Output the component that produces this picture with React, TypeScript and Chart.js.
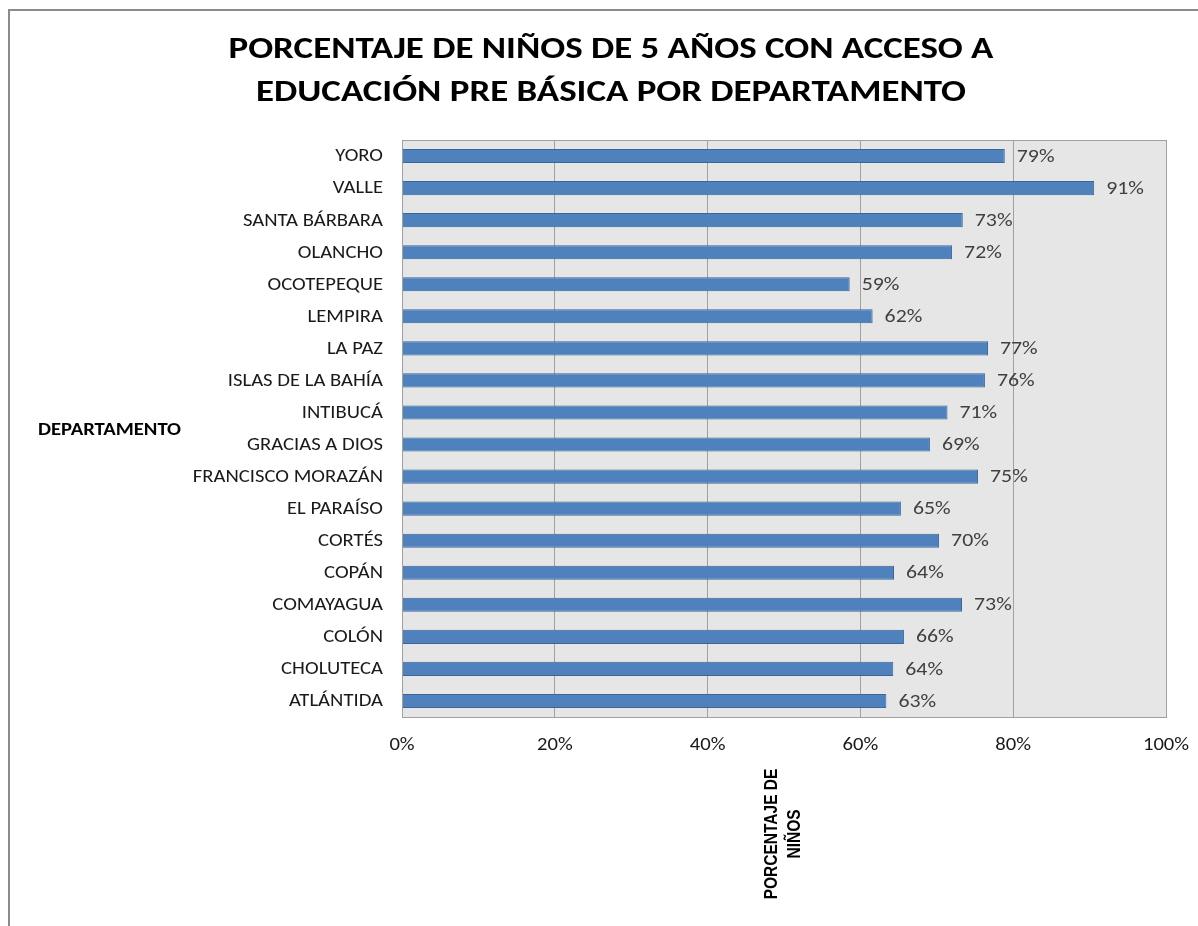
import React, { useEffect, useRef } from "react";
import { Chart, registerables } from "chart.js";

Chart.register(...registerables);

const categories = [
  "YORO",
  "VALLE",
  "SANTA BÁRBARA",
  "OLANCHO",
  "OCOTEPEQUE",
  "LEMPIRA",
  "LA PAZ",
  "ISLAS DE LA BAHÍA",
  "INTIBUCÁ",
  "GRACIAS A DIOS",
  "FRANCISCO MORAZÁN",
  "EL PARAÍSO",
  "CORTÉS",
  "COPÁN",
  "COMAYAGUA",
  "COLÓN",
  "CHOLUTECA",
  "ATLÁNTIDA",
];

const values = [
  0.789, 0.906, 0.734, 0.72, 0.586, 0.616, 0.767, 0.763, 0.714, 0.691, 0.754,
  0.653, 0.703, 0.644, 0.733, 0.657, 0.643, 0.634,
];

const xTicks = [0, 0.2, 0.4, 0.6, 0.8, 1];
const xTickLabels = ["0%", "20%", "40%", "60%", "80%", "100%"];

const titleLines = [
  "PORCENTAJE DE NIÑOS DE 5 AÑOS CON ACCESO A",
  "EDUCACIÓN PRE BÁSICA POR DEPARTAMENTO",
];
const yAxisTitle = "DEPARTAMENTO";
const xAxisTitleLines = ["PORCENTAJE DE", "NIÑOS"];

const BASE_FONT = "Carlito, Calibri, 'Open Sans', sans-serif";
const SX = 1.18;

function drawText(
  ctx: CanvasRenderingContext2D,
  text: string,
  x: number,
  y: number,
  align: CanvasTextAlign,
  font: string,
  color: string,
  sx: number = SX
) {
  ctx.save();
  ctx.translate(x, y);
  ctx.scale(sx, 1);
  ctx.font = font;
  ctx.fillStyle = color;
  ctx.textAlign = align;
  ctx.textBaseline = "middle";
  ctx.fillText(text, 0, 0);
  ctx.restore();
}

const decorPlugin = {
  id: "decor",
  beforeDraw(chart: any) {
    const { ctx, chartArea } = chart;
    ctx.save();
    ctx.fillStyle = "#ffffff";
    ctx.fillRect(0, 0, chart.width, chart.height);
    ctx.fillStyle = "#E6E6E6";
    ctx.fillRect(
      chartArea.left,
      chartArea.top,
      chartArea.right - chartArea.left,
      chartArea.bottom - chartArea.top
    );
    ctx.restore();
  },
  afterDraw(chart: any) {
    const { ctx, chartArea } = chart;
    const xs = chart.scales.x;
    const ys = chart.scales.y;
    ctx.save();
    // plot border
    ctx.strokeStyle = "#A0A0A0";
    ctx.lineWidth = 1;
    ctx.strokeRect(
      chartArea.left + 0.5,
      chartArea.top + 0.5,
      chartArea.right - chartArea.left,
      chartArea.bottom - chartArea.top
    );
    // outer border
    ctx.strokeStyle = "#8C8C8C";
    ctx.lineWidth = 2;
    ctx.beginPath();
    ctx.moveTo(9, chart.height);
    ctx.lineTo(9, 10);
    ctx.lineTo(chart.width, 10);
    ctx.stroke();
    ctx.restore();

    // title
    drawText(ctx, titleLines[0], 611, 50, "center", "bold 31px " + BASE_FONT, "#000000", 1.19);
    drawText(ctx, titleLines[1], 611, 93, "center", "bold 31px " + BASE_FONT, "#000000", 1.19);

    // y axis title
    drawText(ctx, yAxisTitle, 38, 431, "left", "bold 17.5px " + BASE_FONT, "#000000");

    // y tick labels
    categories.forEach((c, i) => {
      drawText(ctx, c, chartArea.left - 19, ys.getPixelForValue(i) + 1, "right", "17.5px " + BASE_FONT, "#1a1a1a");
    });

    // x tick labels
    xTicks.forEach((t, i) => {
      drawText(ctx, xTickLabels[i], xs.getPixelForValue(t), chartArea.bottom + 29, "center", "17.5px " + BASE_FONT, "#1a1a1a");
    });

    // x axis title (rotated)
    ctx.save();
    ctx.translate(784, 834);
    ctx.rotate(-Math.PI / 2);
    ctx.scale(1, 1.18);
    ctx.textAlign = "center";
    ctx.textBaseline = "middle";
    ctx.fillStyle = "#000000";
    ctx.font = "bold 15.5px 'Liberation Sans', Arial, sans-serif";
    ctx.fillText(xAxisTitleLines[0], 0, -10);
    ctx.fillText(xAxisTitleLines[1], 0, 9);
    ctx.restore();

    // data labels
    const meta = chart.getDatasetMeta(0);
    meta.data.forEach((bar: any, i: number) => {
      const v = values[i];
      drawText(ctx, Math.round(v * 100) + "%", bar.x + 12, bar.y + 1, "left", "18.5px " + BASE_FONT, "#404040");
    });
  },
};

export default function App() {
  const ref = useRef<HTMLCanvasElement>(null);
  useEffect(() => {
    if (!ref.current) return;
    const chart = new Chart(ref.current, {
      type: "bar",
      data: {
        labels: categories,
        datasets: [
          {
            data: values,
            backgroundColor: "#4F81BD",
            borderColor: "#3A6699",
            borderWidth: 1,
            barPercentage: 0.44,
            categoryPercentage: 1,
          },
        ],
      },
      options: {
        indexAxis: "y",
        responsive: false,
        animation: false,
        devicePixelRatio: 1,
        layout: { padding: { left: 0, top: 140, right: 32, bottom: 0 } },
        plugins: {
          legend: { display: false },
          title: { display: false },
          tooltip: { enabled: false },
        },
        scales: {
          x: {
            min: 0,
            max: 1,
            grid: { display: true, color: "#A0A0A0", drawTicks: false },
            border: { display: false },
            ticks: { stepSize: 0.2, display: false },
            afterFit: (s: any) => {
              s.height = 926 - 717;
            },
          },
          y: {
            grid: { display: false, drawTicks: false },
            border: { display: false },
            ticks: { display: false },
            afterFit: (s: any) => {
              s.width = 402;
            },
          },
        },
      },
      plugins: [decorPlugin],
    });
    return () => chart.destroy();
  }, []);
  return (
    <div style={{ position: "fixed", left: 0, top: 0, width: 1198, height: 926 }}>
      <canvas ref={ref} width={1198} height={926} style={{ display: "block" }} />
    </div>
  );
}
